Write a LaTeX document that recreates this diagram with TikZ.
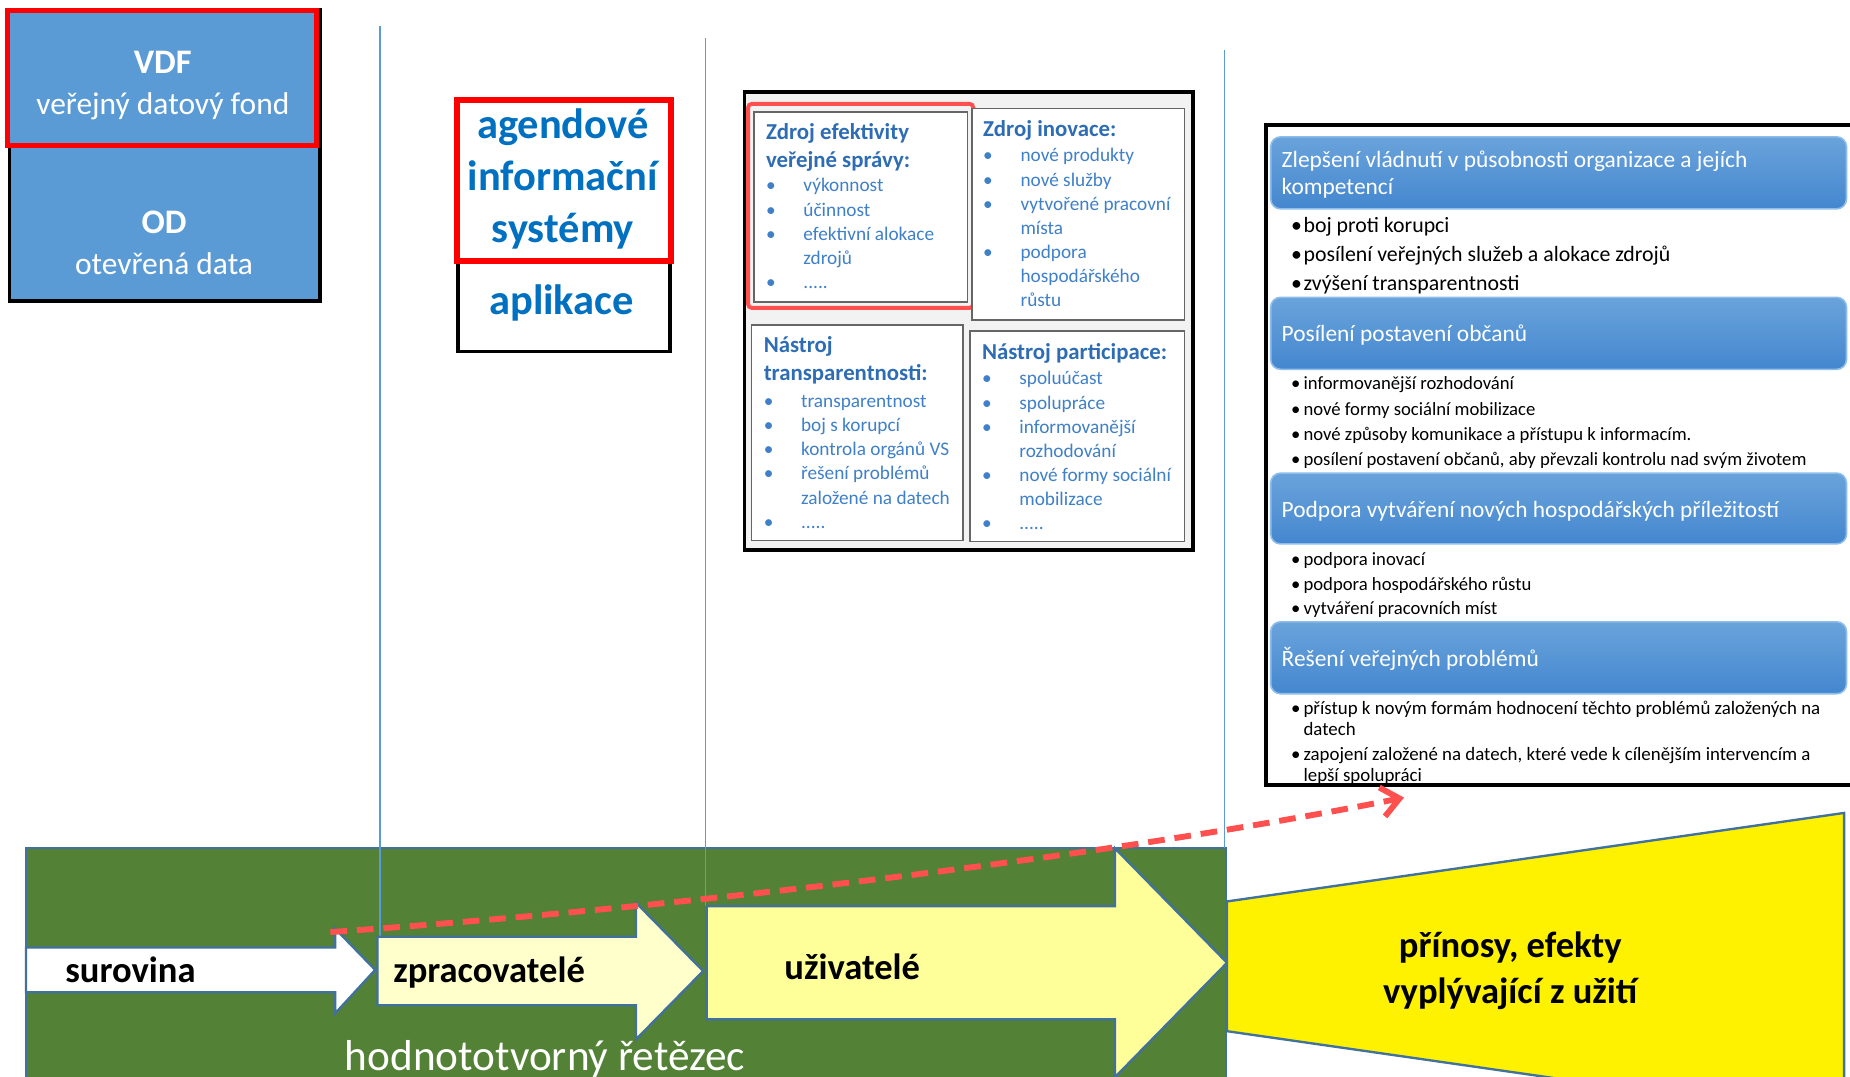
\documentclass[tikz,border=0pt]{standalone}
\usepackage{fontspec}
\setmainfont{Carlito}
\usetikzlibrary{positioning, arrows.meta}
\tikzset{>={Straight Barb[length=9pt,width=15pt]}}

\definecolor{vdfblue}{HTML}{5B9BD5}
\definecolor{agblue}{HTML}{0070C0}
\definecolor{titleblue}{HTML}{2E6DB4}
\definecolor{itemblue}{HTML}{3F80C8}
\definecolor{panelgray}{HTML}{F2F2F2}
\definecolor{chaingreen}{HTML}{538135}
\definecolor{arrowedge}{HTML}{41719C}
\definecolor{lightyel}{HTML}{FFFFCC}
\definecolor{midyel}{HTML}{FFFF99}
\definecolor{dashred}{HTML}{FF5050}
\definecolor{guideblue}{HTML}{5B9BD5}
\definecolor{headtop}{HTML}{6AA3DB}
\definecolor{headbot}{HTML}{4487CF}
\definecolor{headedge}{HTML}{8DBDEA}

\newcommand{\bul}{\makebox[19pt][l]{•}}
\newcommand{\ind}{\hspace*{19pt}}
\newcommand{\rb}{\makebox[6.3pt][l]{•}}
\newcommand{\rind}{\hspace*{6.3pt}}

\begin{document}
\begin{tikzpicture}[x=0.6pt, y=-0.6pt,
    whitetext/.style={anchor=base, inner sep=0pt, text=white, font=\fontsize{16}{19}\selectfont},
    agtext/.style={inner sep=0pt, text=agblue, font=\bfseries\fontsize{21.6}{26.4}\selectfont, align=center},
    guide/.style={draw=guideblue, line width=0.6pt},
    chainedge/.style={draw=arrowedge, line width=1.2pt},
    panel/.style={draw=black!60, line width=0.8pt, fill=white},
    ptitle/.style={anchor=north west, inner sep=0pt, text=titleblue, font=\bfseries\fontsize{11.6}{14.4}\selectfont, align=left},
    pitems/.style={anchor=north west, inner sep=0pt, text=itemblue, font=\fontsize{9.8}{12.3}\selectfont, align=left},
    headbar/.style={rounded corners=5pt, top color=headtop, bottom color=headbot, draw=headedge, line width=0.8pt},
    headtext/.style={anchor=base west, inner sep=0pt, text=white, font=\fontsize{11.9}{13.8}\selectfont, align=left},
    benefit/.style={anchor=north west, inner sep=0pt, align=left},
    chaintext/.style={anchor=base west, inner sep=0pt, font=\bfseries\fontsize{18.6}{23.4}\selectfont},
    valuearrow/.style={->, draw=dashred, line width=3pt, dash pattern=on 8.5pt off 5pt}]

    \useasboundingbox (0,0) rectangle (1568,912);

    %Data sources
    \draw[fill=vdfblue, draw=black, line width=1.8pt] (8,8) rectangle (271,255);
    \draw[fill=vdfblue, draw=red, line width=2.6pt] (6,9) rectangle (268,123);
    \node[whitetext, font=\bfseries\fontsize{17.5}{20}\selectfont] (vdf) at (138,62.5) {VDF};
    \node[whitetext] (vdfname) at (138,97) {veřejný datový fond};
    \node[whitetext, font=\bfseries\fontsize{17.5}{20}\selectfont] (od) at (139,197.5) {OD};
    \node[whitetext] (odname) at (139,232.5) {otevřená data};

    %Processors
    \draw[draw=black, line width=1.8pt, fill=white] (388,222) rectangle (568,298);
    \draw[draw=red, line width=3pt, fill=white] (387,85) rectangle (569,221);
    \node[agtext, anchor=north] (agenda) at (477,86) {\strut agendové\\informační\\systémy};
    \node[agtext, anchor=base] (apps) at (476,266.5) {aplikace};

    %Users
    \draw[fill=panelgray, draw=black, line width=1.8pt] (631,78) rectangle (1011,466);
    \draw[panel] (639,95) rectangle (820,256);
    \draw[draw=dashred, line width=2pt, rounded corners=2pt] (634,88) rectangle (825,261);
    \draw[panel] (824,92) rectangle (1004,271);
    \draw[panel] (637,275.5) rectangle (816,458);
    \draw[panel] (822,280.5) rectangle (1004,459);

    \node[ptitle] (effTitle) at (649,101.1) {\strut Zdroj efektivity\\veřejné správy:};
    \node[pitems] (effItems) at (649,147.9) {\strut\bul výkonnost\\\bul účinnost\\\bul efektivní alokace\\\ind zdrojů\\\bul .....};
    \node[ptitle] (innTitle) at (833,98.6) {\strut Zdroj inovace:};
    \node[pitems] (innItems) at (833,122.5) {\strut\bul nové produkty\\\bul nové služby\\\bul vytvořené pracovní\\\ind místa\\\bul podpora\\\ind hospodářského\\\ind růstu};
    \node[ptitle] (trTitle) at (647,281.6) {\strut Nástroj\\transparentnosti:};
    \node[pitems] (trItems) at (647,330.5) {\strut\bul transparentnost\\\bul boj s korupcí\\\bul kontrola orgánů VS\\\bul řešení problémů\\\ind založené na datech\\\bul .....};
    \node[ptitle] (partTitle) at (832,287.6) {\strut Nástroj participace:};
    \node[pitems] (partItems) at (832,311.5) {\strut\bul spoluúčast\\\bul spolupráce\\\bul informovanější\\\ind rozhodování\\\bul nové formy sociální\\\ind mobilizace\\\bul .....};

    %Benefits
    \draw[draw=black, line width=1.8pt, fill=white] (1073,106) rectangle (1580,665.5);
    \draw[headbar] (1077,116) rectangle (1565,177);
    \node[headtext, anchor=north west] (govHead) at (1086,125.3) {\strut Zlepšení vládnutí v působnosti organizace a jejích\\kompetencí};
    \node[benefit, font=\fontsize{11.1}{14.7}\selectfont] (govItems) at (1094,179.4) {\strut\rb boj proti korupci\\\rb posílení veřejných služeb a alokace zdrojů\\\rb zvýšení transparentnosti};
    \draw[headbar] (1077,252) rectangle (1565,313);
    \node[headtext] (citHead) at (1086,289.3) {Posílení postavení občanů};
    \node[benefit, font=\fontsize{9.5}{12.9}\selectfont] (citItems) at (1094,315) {\strut\rb informovanější rozhodování\\\rb nové formy sociální mobilizace\\\rb nové způsoby komunikace a přístupu k informacím.\\\rb posílení postavení občanů, aby převzali kontrolu nad svým životem};
    \draw[headbar] (1077,401) rectangle (1565,461);
    \node[headtext] (ecoHead) at (1086,438.3) {Podpora vytváření nových hospodářských příležitostí};
    \node[benefit, font=\fontsize{9.5}{12.6}\selectfont] (ecoItems) at (1094,464.1) {\strut\rb podpora inovací\\\rb podpora hospodářského růstu\\\rb vytváření pracovních míst};
    \draw[headbar] (1077,527) rectangle (1565,588);
    \node[headtext] (probHead) at (1086,565.3) {Řešení veřejných problémů};
    \node[benefit, font=\fontsize{9.6}{10.5}\selectfont] (probItems) at (1094,593.4) {\strut\rb přístup k novým formám hodnocení těchto problémů založených na\\\rind datech\\[2.4pt]\rb zapojení založené na datech, které vede k cílenějším intervencím a\\\rind lepší spolupráci};

    %Value chain
    \draw[fill=chaingreen, draw=arrowedge, line width=1pt] (22,718.5) rectangle (1039,930);
    \draw[guide] (322,22) -- (322,795);
    \draw[guide] (598,32) -- (598,768);
    \draw[guide] (1038,42) -- (1038,718.5);

    \draw[chainedge, fill=white] (22,803) -- (284,803) -- (284,787) -- (318,822) -- (284,859) -- (284,841) -- (22,841) -- cycle;
    \draw[chainedge, fill=lightyel] (320,794) -- (539,794) -- (539,765) -- (596,823) -- (539,881) -- (539,852) -- (320,852) -- cycle;
    \draw[chainedge, fill=midyel] (599,768) -- (945,768) -- (945,719) -- (1040,816) -- (945,913) -- (945,864) -- (599,864) -- cycle;
    \draw[chainedge, fill=yellow] (1040,764) -- (1563,689) -- (1563,949) -- (1040,874) -- cycle;

    \node[chaintext] (raw) at (55,833) {surovina};
    \node[chaintext] (proc) at (333,833) {zpracovatelé};
    \node[chaintext] (users) at (664.5,830) {uživatelé};
    \node[chaintext, anchor=north, align=center] (effects) at (1280,783.7) {\strut přínosy, efekty\\vyplývající z užití};
    \node[anchor=base, inner sep=0pt, text=white, font=\fontsize{22}{26}\selectfont] (chainname) at (462,907) {hodnototvorný řetězec};

    %Lines
    \coordinate (dashstart) at (280,790);
    \coordinate (dashend) at (1190,676);
    \draw[valuearrow] (dashstart) .. controls (580,769) and (940,726) .. (dashend);

\end{tikzpicture}
\end{document}
